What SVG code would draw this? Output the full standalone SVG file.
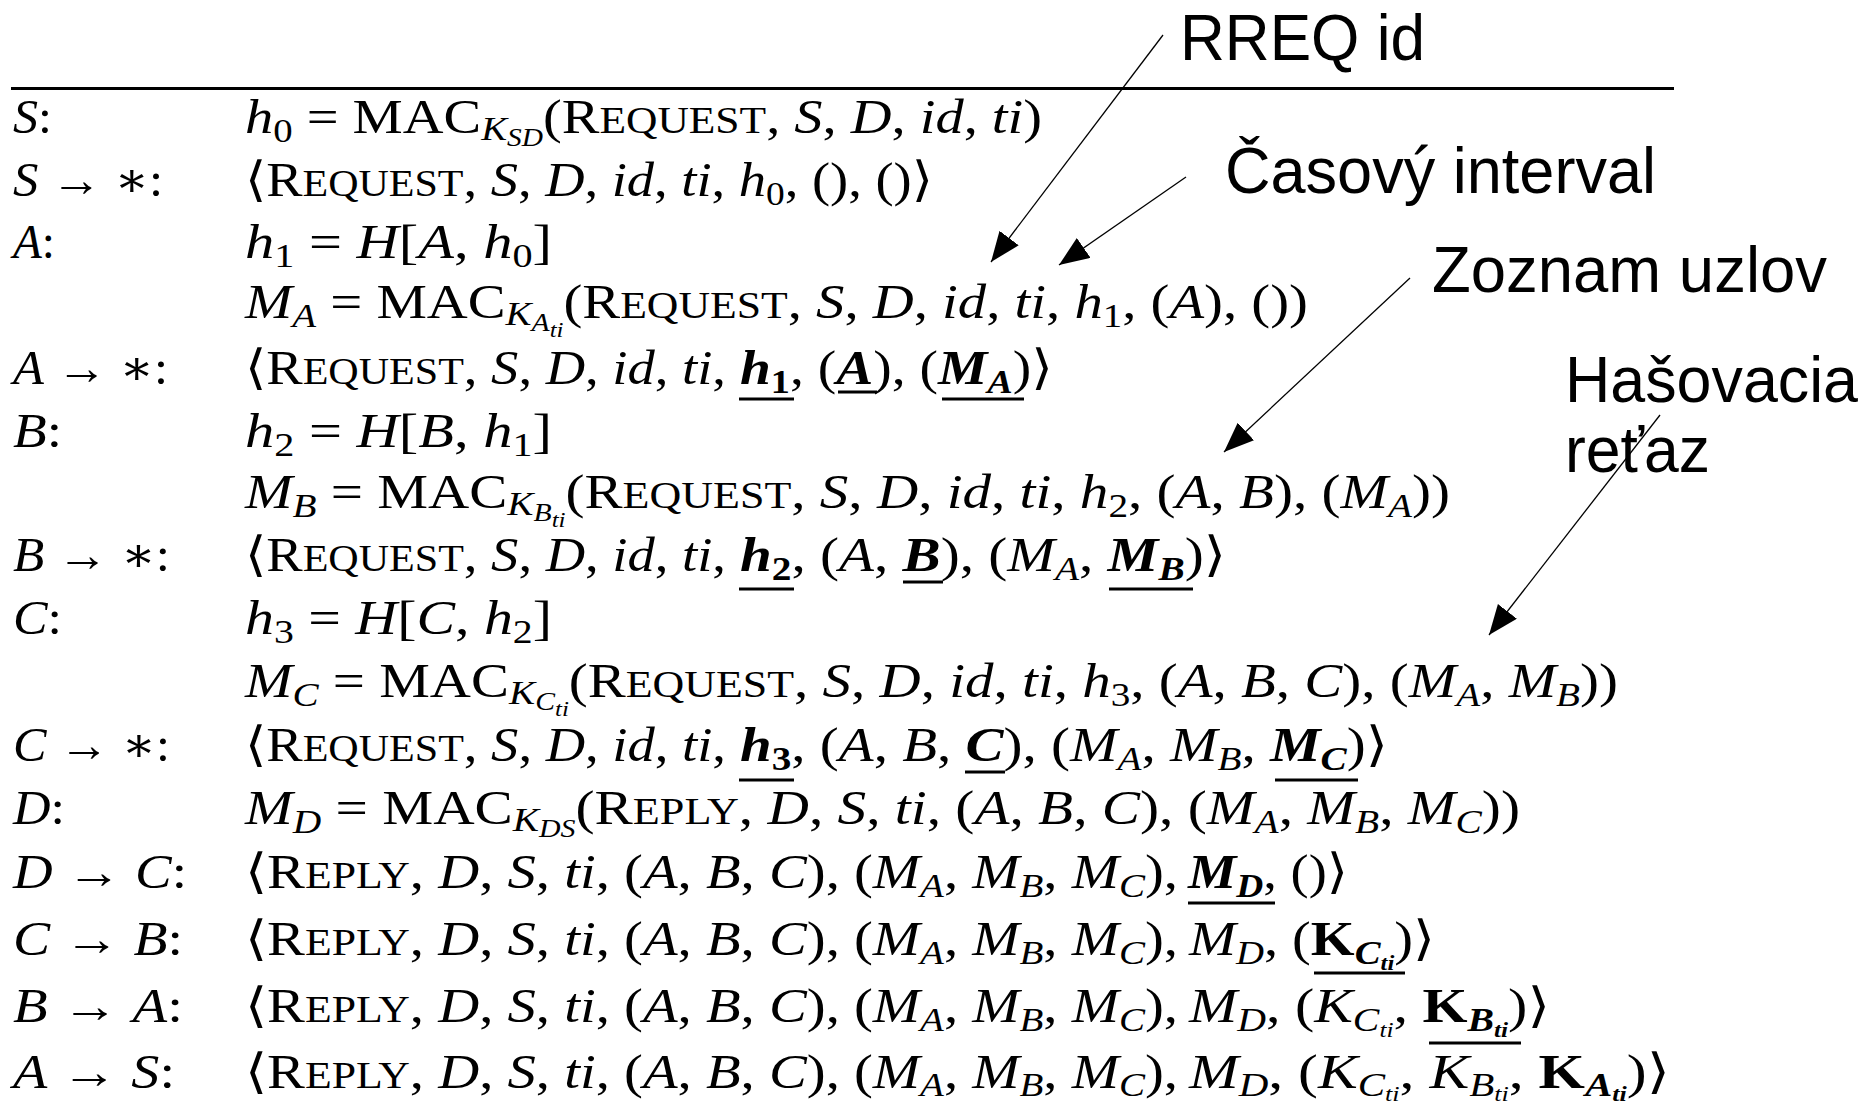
<svg xmlns="http://www.w3.org/2000/svg" width="1864" height="1104" viewBox="0 0 1864 1104">
<style>
.m{font-family:"Liberation Serif","DejaVu Serif",serif;font-size:48px;fill:#000}
.i{font-style:italic}
.b{font-weight:bold}
.sc{font-size:37px}
.s1{font-size:33px}
.s2{font-size:25px}
.s3{font-size:21px}
.lbl{font-family:"Liberation Sans",Arial,sans-serif;font-size:64px;fill:#000}
.ul{stroke:#000;stroke-width:3}
.con{stroke:#000;stroke-width:1.3;fill:none;marker-end:url(#ah)}
</style>
<defs>
<marker id="ah" markerUnits="userSpaceOnUse" markerWidth="32" markerHeight="26" refX="30" refY="12" orient="auto"><path d="M0,0 L30,12 L0,24 z" fill="#000"/></marker>
</defs>
<rect width="1864" height="1104" fill="#fff"/>
<line x1="11" y1="88.5" x2="1674" y2="88.5" stroke="#000" stroke-width="3"/>

<g id="left-labels" class="m">
<text x="13" y="133" textLength="39" lengthAdjust="spacingAndGlyphs"><tspan class="i">S</tspan>:</text>
<text x="13" y="196" textLength="150" lengthAdjust="spacingAndGlyphs"><tspan class="i">S</tspan> → ∗:</text>
<text x="13" y="258" textLength="42" lengthAdjust="spacingAndGlyphs"><tspan class="i">A</tspan>:</text>
<text x="13" y="384" textLength="155" lengthAdjust="spacingAndGlyphs"><tspan class="i">A</tspan> → ∗:</text>
<text x="13" y="447" textLength="49" lengthAdjust="spacingAndGlyphs"><tspan class="i">B</tspan>:</text>
<text x="13" y="571" textLength="157" lengthAdjust="spacingAndGlyphs"><tspan class="i">B</tspan> → ∗:</text>
<text x="13" y="634" textLength="49" lengthAdjust="spacingAndGlyphs"><tspan class="i">C</tspan>:</text>
<text x="13" y="761" textLength="157" lengthAdjust="spacingAndGlyphs"><tspan class="i">C</tspan> → ∗:</text>
<text x="13" y="824" textLength="52" lengthAdjust="spacingAndGlyphs"><tspan class="i">D</tspan>:</text>
<text x="13" y="888" textLength="174" lengthAdjust="spacingAndGlyphs"><tspan class="i">D</tspan> → <tspan class="i">C</tspan>:</text>
<text x="13" y="955" textLength="170" lengthAdjust="spacingAndGlyphs"><tspan class="i">C</tspan> → <tspan class="i">B</tspan>:</text>
<text x="13" y="1022" textLength="170" lengthAdjust="spacingAndGlyphs"><tspan class="i">B</tspan> → <tspan class="i">A</tspan>:</text>
<text x="13" y="1088" textLength="162" lengthAdjust="spacingAndGlyphs"><tspan class="i">A</tspan> → <tspan class="i">S</tspan>:</text>
</g>

<g id="steps" class="m">
<text id="r1" x="245" y="133" textLength="797" lengthAdjust="spacingAndGlyphs"><tspan class="i">h</tspan><tspan class="s1" dy="9">0</tspan><tspan dy="-9"> = MAC</tspan><tspan class="i s1" dy="7">K</tspan><tspan class="i s2" dy="6">SD</tspan><tspan dy="-13">(R</tspan><tspan class="sc">EQUEST</tspan>, <tspan class="i">S</tspan>, <tspan class="i">D</tspan>, <tspan class="i">id</tspan>, <tspan class="i">ti</tspan>)</text>

<text id="r2" x="245" y="196" textLength="688" lengthAdjust="spacingAndGlyphs">⟨R<tspan class="sc">EQUEST</tspan>, <tspan class="i">S</tspan>, <tspan class="i">D</tspan>, <tspan class="i">id</tspan>, <tspan class="i">ti</tspan>, <tspan class="i">h</tspan><tspan class="s1" dy="9">0</tspan><tspan dy="-9">, (), ()⟩</tspan></text>

<text id="r3" x="245" y="258" textLength="307" lengthAdjust="spacingAndGlyphs"><tspan class="i">h</tspan><tspan class="s1" dy="9">1</tspan><tspan dy="-9"> = </tspan><tspan class="i">H</tspan>[<tspan class="i">A</tspan>, <tspan class="i">h</tspan><tspan class="s1" dy="9">0</tspan><tspan dy="-9">]</tspan></text>

<text id="r4" x="245" y="318" textLength="1063" lengthAdjust="spacingAndGlyphs"><tspan class="i">M</tspan><tspan class="i s1" dy="9">A</tspan><tspan dy="-9"> = MAC</tspan><tspan class="i s1" dy="7">K</tspan><tspan class="i s2" dy="6">A</tspan><tspan class="i s3" dy="6">ti</tspan><tspan dy="-19">(R</tspan><tspan class="sc">EQUEST</tspan>, <tspan class="i">S</tspan>, <tspan class="i">D</tspan>, <tspan class="i">id</tspan>, <tspan class="i">ti</tspan>, <tspan class="i">h</tspan><tspan class="s1" dy="9">1</tspan><tspan dy="-9">, (</tspan><tspan class="i">A</tspan>), ())</text>

<g id="r5">
<text x="245" y="384" textLength="481" lengthAdjust="spacingAndGlyphs">⟨R<tspan class="sc">EQUEST</tspan>, <tspan class="i">S</tspan>, <tspan class="i">D</tspan>, <tspan class="i">id</tspan>, <tspan class="i">ti</tspan>,</text>
<text x="740" y="384" textLength="313" lengthAdjust="spacingAndGlyphs"><tspan class="i b">h</tspan><tspan class="b s1" dy="9">1</tspan><tspan dy="-9">, (</tspan><tspan class="i b">A</tspan>), (<tspan class="i b">M</tspan><tspan class="i b s1" dy="9">A</tspan><tspan dy="-9">)⟩</tspan></text>
</g>

<text id="r6" x="245" y="447" textLength="307" lengthAdjust="spacingAndGlyphs"><tspan class="i">h</tspan><tspan class="s1" dy="9">2</tspan><tspan dy="-9"> = </tspan><tspan class="i">H</tspan>[<tspan class="i">B</tspan>, <tspan class="i">h</tspan><tspan class="s1" dy="9">1</tspan><tspan dy="-9">]</tspan></text>

<text id="r7" x="245" y="508" textLength="1205" lengthAdjust="spacingAndGlyphs"><tspan class="i">M</tspan><tspan class="i s1" dy="9">B</tspan><tspan dy="-9"> = MAC</tspan><tspan class="i s1" dy="7">K</tspan><tspan class="i s2" dy="6">B</tspan><tspan class="i s3" dy="6">ti</tspan><tspan dy="-19">(R</tspan><tspan class="sc">EQUEST</tspan>, <tspan class="i">S</tspan>, <tspan class="i">D</tspan>, <tspan class="i">id</tspan>, <tspan class="i">ti</tspan>, <tspan class="i">h</tspan><tspan class="s1" dy="9">2</tspan><tspan dy="-9">, (</tspan><tspan class="i">A</tspan>, <tspan class="i">B</tspan>), (<tspan class="i">M</tspan><tspan class="i s1" dy="9">A</tspan><tspan dy="-9">))</tspan></text>

<g id="r8">
<text x="245" y="571" textLength="481" lengthAdjust="spacingAndGlyphs">⟨R<tspan class="sc">EQUEST</tspan>, <tspan class="i">S</tspan>, <tspan class="i">D</tspan>, <tspan class="i">id</tspan>, <tspan class="i">ti</tspan>,</text>
<text x="740" y="571" textLength="486" lengthAdjust="spacingAndGlyphs"><tspan class="i b">h</tspan><tspan class="b s1" dy="9">2</tspan><tspan dy="-9">, (</tspan><tspan class="i">A</tspan>, <tspan class="i b">B</tspan>), (<tspan class="i">M</tspan><tspan class="i s1" dy="9">A</tspan><tspan dy="-9">, </tspan><tspan class="i b">M</tspan><tspan class="i b s1" dy="9">B</tspan><tspan dy="-9">)⟩</tspan></text>
</g>

<text id="r9" x="245" y="634" textLength="307" lengthAdjust="spacingAndGlyphs"><tspan class="i">h</tspan><tspan class="s1" dy="9">3</tspan><tspan dy="-9"> = </tspan><tspan class="i">H</tspan>[<tspan class="i">C</tspan>, <tspan class="i">h</tspan><tspan class="s1" dy="9">2</tspan><tspan dy="-9">]</tspan></text>

<text id="r10" x="245" y="697" textLength="1373" lengthAdjust="spacingAndGlyphs"><tspan class="i">M</tspan><tspan class="i s1" dy="9">C</tspan><tspan dy="-9"> = MAC</tspan><tspan class="i s1" dy="7">K</tspan><tspan class="i s2" dy="6">C</tspan><tspan class="i s3" dy="6">ti</tspan><tspan dy="-19">(R</tspan><tspan class="sc">EQUEST</tspan>, <tspan class="i">S</tspan>, <tspan class="i">D</tspan>, <tspan class="i">id</tspan>, <tspan class="i">ti</tspan>, <tspan class="i">h</tspan><tspan class="s1" dy="9">3</tspan><tspan dy="-9">, (</tspan><tspan class="i">A</tspan>, <tspan class="i">B</tspan>, <tspan class="i">C</tspan>), (<tspan class="i">M</tspan><tspan class="i s1" dy="9">A</tspan><tspan dy="-9">, </tspan><tspan class="i">M</tspan><tspan class="i s1" dy="9">B</tspan><tspan dy="-9">))</tspan></text>

<g id="r11">
<text x="245" y="761" textLength="481" lengthAdjust="spacingAndGlyphs">⟨R<tspan class="sc">EQUEST</tspan>, <tspan class="i">S</tspan>, <tspan class="i">D</tspan>, <tspan class="i">id</tspan>, <tspan class="i">ti</tspan>,</text>
<text x="740" y="761" textLength="648" lengthAdjust="spacingAndGlyphs"><tspan class="i b">h</tspan><tspan class="b s1" dy="9">3</tspan><tspan dy="-9">, (</tspan><tspan class="i">A</tspan>, <tspan class="i">B</tspan>, <tspan class="i b">C</tspan>), (<tspan class="i">M</tspan><tspan class="i s1" dy="9">A</tspan><tspan dy="-9">, </tspan><tspan class="i">M</tspan><tspan class="i s1" dy="9">B</tspan><tspan dy="-9">, </tspan><tspan class="i b">M</tspan><tspan class="i b s1" dy="9">C</tspan><tspan dy="-9">)⟩</tspan></text>
</g>

<text id="r12" x="245" y="824" textLength="1275" lengthAdjust="spacingAndGlyphs"><tspan class="i">M</tspan><tspan class="i s1" dy="9">D</tspan><tspan dy="-9"> = MAC</tspan><tspan class="i s1" dy="7">K</tspan><tspan class="i s2" dy="6">DS</tspan><tspan dy="-13">(R</tspan><tspan class="sc">EPLY</tspan>, <tspan class="i">D</tspan>, <tspan class="i">S</tspan>, <tspan class="i">ti</tspan>, (<tspan class="i">A</tspan>, <tspan class="i">B</tspan>, <tspan class="i">C</tspan>), (<tspan class="i">M</tspan><tspan class="i s1" dy="9">A</tspan><tspan dy="-9">, </tspan><tspan class="i">M</tspan><tspan class="i s1" dy="9">B</tspan><tspan dy="-9">, </tspan><tspan class="i">M</tspan><tspan class="i s1" dy="9">C</tspan><tspan dy="-9">))</tspan></text>

<g id="r13">
<text x="245" y="888" textLength="933" lengthAdjust="spacingAndGlyphs">⟨R<tspan class="sc">EPLY</tspan>, <tspan class="i">D</tspan>, <tspan class="i">S</tspan>, <tspan class="i">ti</tspan>, (<tspan class="i">A</tspan>, <tspan class="i">B</tspan>, <tspan class="i">C</tspan>), (<tspan class="i">M</tspan><tspan class="i s1" dy="9">A</tspan><tspan dy="-9">, </tspan><tspan class="i">M</tspan><tspan class="i s1" dy="9">B</tspan><tspan dy="-9">, </tspan><tspan class="i">M</tspan><tspan class="i s1" dy="9">C</tspan><tspan dy="-9">),</tspan></text>
<text x="1188" y="888" textLength="160" lengthAdjust="spacingAndGlyphs"><tspan class="i b">M</tspan><tspan class="i b s1" dy="9">D</tspan><tspan dy="-9">, ()⟩</tspan></text>
</g>

<g id="r14">
<text x="245" y="955" textLength="933" lengthAdjust="spacingAndGlyphs">⟨R<tspan class="sc">EPLY</tspan>, <tspan class="i">D</tspan>, <tspan class="i">S</tspan>, <tspan class="i">ti</tspan>, (<tspan class="i">A</tspan>, <tspan class="i">B</tspan>, <tspan class="i">C</tspan>), (<tspan class="i">M</tspan><tspan class="i s1" dy="9">A</tspan><tspan dy="-9">, </tspan><tspan class="i">M</tspan><tspan class="i s1" dy="9">B</tspan><tspan dy="-9">, </tspan><tspan class="i">M</tspan><tspan class="i s1" dy="9">C</tspan><tspan dy="-9">),</tspan></text>
<text x="1189" y="955" textLength="246" lengthAdjust="spacingAndGlyphs"><tspan class="i">M</tspan><tspan class="i s1" dy="9">D</tspan><tspan dy="-9">, (</tspan><tspan class="b">K</tspan><tspan class="i b s1" dy="9">C</tspan><tspan class="i b s3" dy="6">ti</tspan><tspan dy="-15">)⟩</tspan></text>
</g>

<g id="r15">
<text x="245" y="1022" textLength="933" lengthAdjust="spacingAndGlyphs">⟨R<tspan class="sc">EPLY</tspan>, <tspan class="i">D</tspan>, <tspan class="i">S</tspan>, <tspan class="i">ti</tspan>, (<tspan class="i">A</tspan>, <tspan class="i">B</tspan>, <tspan class="i">C</tspan>), (<tspan class="i">M</tspan><tspan class="i s1" dy="9">A</tspan><tspan dy="-9">, </tspan><tspan class="i">M</tspan><tspan class="i s1" dy="9">B</tspan><tspan dy="-9">, </tspan><tspan class="i">M</tspan><tspan class="i s1" dy="9">C</tspan><tspan dy="-9">),</tspan></text>
<text x="1189" y="1022" textLength="361" lengthAdjust="spacingAndGlyphs"><tspan class="i">M</tspan><tspan class="i s1" dy="9">D</tspan><tspan dy="-9">, (</tspan><tspan class="i">K</tspan><tspan class="i s1" dy="9">C</tspan><tspan class="i s3" dy="6">ti</tspan><tspan dy="-15">, </tspan><tspan class="b">K</tspan><tspan class="i b s1" dy="9">B</tspan><tspan class="i b s3" dy="6">ti</tspan><tspan dy="-15">)⟩</tspan></text>
</g>

<g id="r16">
<text x="245" y="1088" textLength="933" lengthAdjust="spacingAndGlyphs">⟨R<tspan class="sc">EPLY</tspan>, <tspan class="i">D</tspan>, <tspan class="i">S</tspan>, <tspan class="i">ti</tspan>, (<tspan class="i">A</tspan>, <tspan class="i">B</tspan>, <tspan class="i">C</tspan>), (<tspan class="i">M</tspan><tspan class="i s1" dy="8">A</tspan><tspan dy="-8">, </tspan><tspan class="i">M</tspan><tspan class="i s1" dy="8">B</tspan><tspan dy="-8">, </tspan><tspan class="i">M</tspan><tspan class="i s1" dy="8">C</tspan><tspan dy="-8">),</tspan></text>
<text x="1189" y="1088" textLength="481" lengthAdjust="spacingAndGlyphs"><tspan class="i">M</tspan><tspan class="i s1" dy="8">D</tspan><tspan dy="-8">, (</tspan><tspan class="i">K</tspan><tspan class="i s1" dy="8">C</tspan><tspan class="i s3" dy="5">ti</tspan><tspan dy="-13">, </tspan><tspan class="i">K</tspan><tspan class="i s1" dy="8">B</tspan><tspan class="i s3" dy="5">ti</tspan><tspan dy="-13">, </tspan><tspan class="b">K</tspan><tspan class="i b s1" dy="8">A</tspan><tspan class="i b s3" dy="5">ti</tspan><tspan dy="-13">)⟩</tspan></text>
</g>
</g>

<g id="underlines">
<line class="ul" x1="739" y1="399" x2="794" y2="399"/>
<line class="ul" x1="838" y1="392" x2="877" y2="392"/>
<line class="ul" x1="942" y1="399" x2="1024" y2="399"/>
<line class="ul" x1="739" y1="589" x2="794" y2="589"/>
<line class="ul" x1="903" y1="582" x2="943" y2="582"/>
<line class="ul" x1="1109" y1="589" x2="1193" y2="589"/>
<line class="ul" x1="739" y1="780" x2="794" y2="780"/>
<line class="ul" x1="965" y1="772" x2="1005" y2="772"/>
<line class="ul" x1="1275" y1="780" x2="1358" y2="780"/>
<line class="ul" x1="1188" y1="903" x2="1275" y2="903"/>
<line class="ul" x1="1314" y1="973" x2="1405" y2="973"/>
<line class="ul" x1="1429" y1="1043" x2="1521" y2="1043"/>
</g>

<g id="label-rreq"><text class="lbl" x="1180" y="60" textLength="245" lengthAdjust="spacingAndGlyphs">RREQ id</text></g>
<g id="label-cas"><text class="lbl" x="1225" y="193" textLength="431" lengthAdjust="spacingAndGlyphs">Časový interval</text></g>
<g id="label-zoznam"><text class="lbl" x="1432" y="292" textLength="395" lengthAdjust="spacingAndGlyphs">Zoznam uzlov</text></g>
<g id="label-hash"><text class="lbl" x="1565" y="402" textLength="293" lengthAdjust="spacingAndGlyphs">Hašovacia</text><text class="lbl" x="1565" y="472" textLength="145" lengthAdjust="spacingAndGlyphs">reťaz</text></g>

<g id="connectors">
<line class="con" x1="1163" y1="35" x2="991" y2="262"/>
<line class="con" x1="1186" y1="177" x2="1059" y2="265"/>
<line class="con" x1="1410" y1="278" x2="1224" y2="452"/>
<line class="con" x1="1660" y1="415" x2="1489" y2="635"/>
</g>
</svg>
